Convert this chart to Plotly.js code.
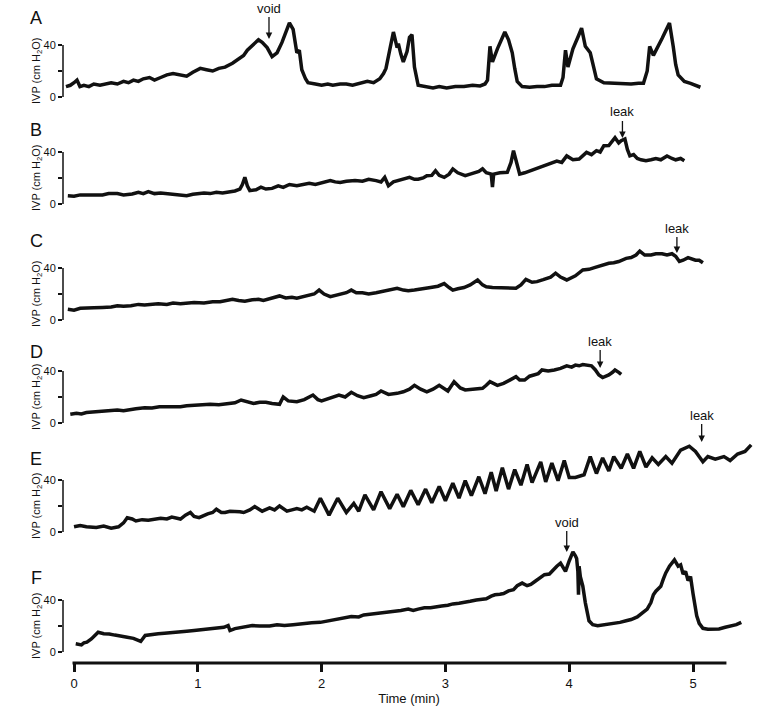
<!DOCTYPE html>
<html>
<head>
<meta charset="utf-8">
<script src="https://cdn.plot.ly/plotly-3.0.1.min.js"></script>
<style>
  html, body { margin: 0; padding: 0; background: #fff; }
  #chart { width: 781px; height: 709px; }
</style>
</head>
<body>
<div id="chart"></div>
<script>
// panel labels and axis ticks
const panelLabels = ["A", "B", "C", "D", "E", "F"];
const timeTicks = [0, 1, 2, 3, 4, 5];
const ivpTicks = [0, 40];
const ivpMinorTicks = [20];

// IVP traces as [time (min), pressure (cm H2O)]
const pointsA = [[-0.065, 8], [-0.03, 9], [0.00, 11], [0.024, 13], [0.048, 8], [0.08, 9], [0.12, 8], [0.16, 10], [0.21, 9], [0.25, 10],
  [0.30, 11], [0.35, 10], [0.40, 12], [0.44, 11], [0.48, 13], [0.52, 12], [0.56, 14], [0.61, 15], [0.65, 13], [0.70, 15],
  [0.75, 17], [0.80, 18], [0.85, 17], [0.91, 16], [0.96, 19], [1.02, 22], [1.07, 21], [1.12, 20], [1.17, 22], [1.22, 23],
  [1.28, 26], [1.33, 29], [1.37, 32], [1.40, 36], [1.45, 40], [1.49, 44], [1.52, 42], [1.56, 38], [1.60, 31], [1.64, 34],
  [1.68, 42], [1.71, 50], [1.74, 57], [1.77, 52], [1.79, 40], [1.80, 34], [1.82, 36], [1.84, 21], [1.87, 14], [1.89, 11],
  [1.95, 10], [2.00, 9], [2.05, 10], [2.09, 9], [2.15, 10], [2.20, 10], [2.25, 9], [2.30, 10], [2.37, 12], [2.42, 11],
  [2.47, 14], [2.50, 18], [2.52, 22], [2.55, 36], [2.58, 50], [2.61, 38], [2.62, 41], [2.64, 33], [2.66, 27], [2.69, 35],
  [2.71, 46], [2.73, 48], [2.75, 23], [2.78, 9], [2.85, 8], [2.90, 7], [2.95, 8], [3.01, 7], [3.08, 8], [3.15, 8],
  [3.22, 9], [3.28, 8.5], [3.32, 10], [3.34, 13], [3.36, 39], [3.38, 27], [3.42, 37], [3.45, 44], [3.48, 50], [3.51, 44],
  [3.54, 34], [3.56, 22], [3.58, 12], [3.62, 8], [3.68, 7.5], [3.74, 8], [3.80, 8], [3.86, 9], [3.93, 9], [3.95, 15],
  [3.97, 36], [3.99, 23], [4.03, 37], [4.07, 46], [4.10, 53], [4.13, 39], [4.17, 34], [4.20, 22], [4.22, 14], [4.28, 11],
  [4.35, 10.5], [4.42, 10], [4.50, 10], [4.56, 10.5], [4.60, 10.5], [4.63, 20], [4.65, 39], [4.68, 32], [4.71, 37], [4.75, 45],
  [4.78, 51], [4.81, 57], [4.84, 39], [4.86, 25], [4.88, 17], [4.93, 12], [4.98, 10.5], [5.02, 9], [5.06, 7.5]];

const pointsB = [[-0.05, 6.4], [0.00, 6], [0.05, 7], [0.10, 7], [0.15, 6.5], [0.23, 6.9], [0.28, 8], [0.35, 8], [0.40, 7], [0.47, 7.7],
  [0.52, 9], [0.56, 8], [0.60, 9.5], [0.65, 8], [0.70, 8.5], [0.75, 8], [0.80, 7.5], [0.85, 7], [0.91, 6.4], [0.96, 7.5],
  [1.00, 8], [1.05, 8.5], [1.10, 8], [1.15, 9], [1.20, 8.5], [1.25, 9.5], [1.30, 10], [1.34, 11.5], [1.36, 15], [1.38, 20.5],
  [1.40, 14], [1.42, 10.3], [1.47, 11], [1.51, 13], [1.55, 11.5], [1.60, 12], [1.65, 14], [1.69, 12.8], [1.74, 15], [1.80, 14],
  [1.85, 15], [1.90, 16], [1.95, 15], [2.00, 16.5], [2.04, 17], [2.07, 18], [2.11, 17], [2.15, 16.5], [2.20, 17.5], [2.27, 18],
  [2.33, 17.5], [2.38, 19], [2.44, 18], [2.48, 17], [2.51, 20.5], [2.54, 14], [2.58, 17], [2.62, 18], [2.66, 19], [2.71, 20.5],
  [2.75, 19], [2.78, 19], [2.82, 20], [2.85, 21.8], [2.89, 22], [2.92, 25.6], [2.95, 22], [2.99, 20.5], [3.03, 23], [3.06, 27],
  [3.10, 24], [3.16, 21.8], [3.20, 23], [3.24, 24], [3.27, 25], [3.30, 27], [3.33, 24], [3.37, 23], [3.38, 13], [3.39, 23],
  [3.44, 24], [3.50, 24.4], [3.53, 32], [3.55, 41], [3.57, 33], [3.60, 23], [3.64, 24], [3.70, 26], [3.75, 28], [3.81, 29.5],
  [3.85, 31], [3.90, 33], [3.94, 32], [3.98, 37], [4.03, 34], [4.08, 34.6], [4.14, 39.7], [4.18, 38], [4.22, 41], [4.25, 40],
  [4.28, 44.9], [4.32, 45], [4.37, 51], [4.40, 47], [4.42, 48.7], [4.45, 50], [4.47, 42], [4.49, 37], [4.52, 38], [4.55, 35],
  [4.58, 34], [4.62, 33.3], [4.66, 34], [4.70, 35], [4.74, 34], [4.79, 37], [4.83, 35], [4.86, 34], [4.90, 35], [4.93, 33.3]];

const pointsC = [[-0.05, 8.2], [0.00, 7.5], [0.05, 9], [0.10, 9], [0.16, 9.5], [0.23, 9.7], [0.30, 10], [0.35, 11], [0.40, 10.5], [0.46, 11],
  [0.52, 12], [0.57, 11.5], [0.62, 12], [0.68, 12.5], [0.75, 12], [0.80, 13], [0.86, 12.5], [0.91, 12.8], [0.97, 13.5], [1.05, 13],
  [1.12, 14], [1.18, 14], [1.23, 15], [1.28, 16], [1.33, 15], [1.38, 14.5], [1.44, 15.5], [1.49, 16], [1.53, 15], [1.58, 16.5],
  [1.62, 17], [1.66, 18.5], [1.71, 17], [1.76, 17.5], [1.80, 16.7], [1.85, 18], [1.90, 19], [1.94, 20], [1.98, 23], [2.02, 20],
  [2.07, 18], [2.11, 19], [2.15, 20], [2.20, 21], [2.24, 23], [2.28, 21], [2.33, 21], [2.38, 20], [2.44, 21], [2.50, 22],
  [2.56, 23], [2.61, 24.4], [2.66, 23], [2.70, 22.5], [2.75, 23], [2.80, 24], [2.88, 25], [2.94, 26], [2.99, 28], [3.03, 25],
  [3.06, 23], [3.10, 24], [3.15, 25], [3.20, 27], [3.26, 30.8], [3.30, 27], [3.33, 25.6], [3.38, 25], [3.45, 25], [3.50, 24.5],
  [3.57, 24.4], [3.61, 27], [3.65, 31.3], [3.70, 29], [3.74, 29.5], [3.79, 31], [3.85, 33], [3.89, 36], [3.93, 33], [3.98, 30.8],
  [4.02, 33], [4.05, 34], [4.11, 38.5], [4.16, 39], [4.21, 40.5], [4.26, 42], [4.32, 43.6], [4.36, 44], [4.40, 45], [4.46, 47.4],
  [4.50, 48], [4.54, 50], [4.57, 53], [4.61, 50], [4.66, 50], [4.70, 51], [4.75, 51], [4.79, 50], [4.83, 51], [4.86, 49],
  [4.89, 45], [4.92, 46], [4.96, 48], [5.02, 46], [5.05, 46], [5.08, 44]];

const pointsD = [[-0.03, 6.7], [0.02, 7.5], [0.06, 7], [0.10, 8], [0.15, 8.5], [0.20, 9], [0.25, 9.5], [0.30, 10], [0.35, 10], [0.40, 9.5],
  [0.45, 10.5], [0.50, 11], [0.57, 11.8], [0.63, 11.5], [0.69, 12.5], [0.75, 12.5], [0.81, 13], [0.86, 12.5], [0.91, 13.3], [0.97, 13.5],
  [1.05, 14], [1.10, 14.5], [1.17, 14], [1.25, 15], [1.30, 15.5], [1.35, 17.7], [1.40, 16], [1.45, 15], [1.50, 16], [1.55, 16],
  [1.60, 15], [1.66, 14.4], [1.69, 20], [1.73, 17], [1.80, 16.4], [1.86, 18], [1.93, 21.5], [1.97, 18], [2.00, 17], [2.07, 19],
  [2.14, 21.5], [2.19, 20], [2.24, 23.6], [2.29, 21], [2.34, 19.5], [2.40, 21], [2.44, 22], [2.48, 24.6], [2.54, 22], [2.61, 22.8],
  [2.66, 24], [2.71, 26], [2.75, 29], [2.80, 26], [2.85, 24], [2.90, 26], [2.95, 29], [3.02, 24.6], [3.07, 31.8], [3.12, 27],
  [3.16, 25.4], [3.22, 26], [3.30, 26.7], [3.33, 29], [3.36, 31.8], [3.42, 29], [3.47, 30.5], [3.52, 33], [3.57, 35.6], [3.60, 33],
  [3.64, 33], [3.68, 36], [3.71, 37], [3.75, 38], [3.78, 40.8], [3.83, 40], [3.88, 40.8], [3.93, 42], [3.98, 44], [4.02, 43],
  [4.05, 44.5], [4.08, 44], [4.11, 45], [4.15, 44.5], [4.18, 44], [4.21, 41], [4.24, 37], [4.27, 35], [4.30, 36], [4.32, 37],
  [4.35, 39], [4.37, 40.8], [4.40, 39], [4.42, 37.4]];

const pointsE = [[0.00, 4], [0.05, 5], [0.10, 4], [0.14, 3.5], [0.18, 3.5], [0.24, 4.5], [0.30, 3], [0.36, 4], [0.40, 7], [0.43, 11],
  [0.47, 10], [0.50, 8.5], [0.55, 9.5], [0.60, 9], [0.65, 10], [0.70, 10.5], [0.75, 10], [0.79, 11.5], [0.86, 10], [0.90, 13],
  [0.94, 15], [0.97, 12], [1.01, 11], [1.05, 13], [1.08, 14], [1.12, 15], [1.15, 17.5], [1.19, 15], [1.22, 15], [1.26, 16],
  [1.30, 16], [1.34, 15.5], [1.37, 15], [1.42, 17], [1.46, 19.5], [1.52, 16], [1.58, 18.5], [1.62, 17], [1.66, 20], [1.72, 16],
  [1.76, 17], [1.80, 18], [1.84, 17], [1.88, 19], [1.94, 16], [1.99, 26], [2.06, 13], [2.13, 26], [2.20, 15], [2.26, 22],
  [2.30, 16], [2.35, 28.5], [2.42, 17], [2.48, 31], [2.55, 18], [2.61, 29], [2.66, 19.5], [2.72, 32], [2.78, 21], [2.84, 33],
  [2.89, 22.5], [2.95, 35], [3.00, 24], [3.06, 37.5], [3.11, 26], [3.16, 39.5], [3.21, 28], [3.27, 42.5], [3.32, 29.5], [3.37, 46],
  [3.41, 31.5], [3.46, 49.5], [3.51, 33], [3.56, 48], [3.61, 36], [3.66, 52], [3.70, 38], [3.77, 54], [3.81, 38.5], [3.86, 53],
  [3.91, 39.5], [3.96, 55], [4.00, 42], [4.05, 42], [4.12, 44], [4.17, 58], [4.22, 45], [4.27, 57], [4.32, 47], [4.36, 58],
  [4.42, 49], [4.47, 60], [4.52, 49], [4.57, 62], [4.62, 50], [4.67, 57], [4.72, 52], [4.78, 58], [4.83, 53], [4.90, 63],
  [4.97, 66], [5.02, 62], [5.08, 54], [5.12, 58], [5.18, 56], [5.25, 58], [5.30, 55], [5.36, 60], [5.42, 62], [5.47, 67]];

const pointsF = [[0.014, 6.3], [0.04, 6], [0.06, 5.5], [0.08, 7], [0.104, 7.6], [0.14, 10], [0.17, 13], [0.195, 15.2], [0.24, 14], [0.285, 13.9],
  [0.33, 13], [0.38, 12.5], [0.43, 11.4], [0.48, 10.5], [0.52, 9], [0.539, 8.1], [0.575, 12.7], [0.62, 13], [0.68, 14], [0.73, 14.5],
  [0.79, 15.2], [0.85, 15.5], [0.91, 16], [0.97, 16.5], [1.03, 17], [1.10, 18], [1.16, 18.5], [1.21, 19], [1.245, 20.3], [1.26, 16.5],
  [1.30, 18], [1.35, 19], [1.40, 19.5], [1.44, 20.3], [1.50, 20], [1.58, 20], [1.64, 21], [1.70, 20.3], [1.77, 21], [1.85, 22],
  [1.92, 22.5], [1.99, 22.8], [2.05, 24], [2.10, 25], [2.17, 26], [2.24, 27.3], [2.30, 27], [2.34, 28.5], [2.39, 29], [2.44, 29.5],
  [2.50, 30], [2.55, 30.5], [2.59, 31], [2.64, 32], [2.70, 33], [2.74, 32], [2.78, 33], [2.83, 34], [2.88, 34], [2.93, 35],
  [2.97, 35.4], [3.02, 36], [3.06, 37], [3.11, 37.5], [3.15, 38], [3.20, 39], [3.25, 40], [3.29, 40.5], [3.33, 41], [3.37, 43],
  [3.40, 44], [3.44, 44.5], [3.47, 45], [3.51, 47], [3.55, 48], [3.58, 51], [3.62, 53], [3.66, 51], [3.69, 52], [3.72, 54],
  [3.75, 56], [3.78, 58], [3.80, 59.5], [3.84, 60], [3.87, 63.3], [3.90, 66], [3.93, 68.4], [3.97, 62], [4.00, 70], [4.03, 77],
  [4.05, 74], [4.06, 72], [4.07, 62], [4.075, 44], [4.08, 66], [4.09, 58], [4.11, 50.6], [4.13, 38], [4.16, 24], [4.19, 21],
  [4.23, 20.3], [4.28, 21], [4.32, 21.5], [4.37, 22], [4.41, 22.8], [4.46, 24], [4.50, 25], [4.55, 27], [4.60, 30.4], [4.63, 33],
  [4.66, 38], [4.68, 44], [4.70, 46.8], [4.74, 50.6], [4.76, 56], [4.78, 60.8], [4.81, 66], [4.83, 69], [4.85, 70.9], [4.88, 66],
  [4.90, 67], [4.92, 60], [4.94, 62], [4.96, 55], [4.98, 58], [5.00, 45], [5.03, 27.8], [5.05, 22], [5.08, 18.2], [5.12, 17.5],
  [5.15, 17.5], [5.21, 17.7], [5.26, 19], [5.30, 20], [5.35, 21], [5.39, 22.8]];

// event markers: panel index, label, time of arrow tip, IVP at arrow tip
const markPanel = [0, 1, 2, 3, 4, 5];
const markText = ["void", "leak", "leak", "leak", "leak", "void"];
const markTime = [1.575, 4.43, 4.87, 4.25, 5.07, 3.98];
const markIvp = [44.6, 50.8, 51.5, 42.3, 69.2, 76.9];

const panelPoints = [pointsA, pointsB, pointsC, pointsD, pointsE, pointsF];

// page geometry (pixels)
const plotLeft = 63, plotRight = 755, plotBottom = 663;
const pxPerUnit = 52 / 40;
const zeroPx = [97, 204, 320, 423, 532, 652];
const topPx = [2, 106, 214, 330, 405, 542];
const bottomPx = [104, 212, 328, 430, 540, 663];
const letterPx = [18, 130, 241, 352, 459, 578];
const markLift = [-31, -26, -25, -27, -27, -30];

const font = 'Arial, "Liberation Sans", sans-serif';
const toPaperY = (px) => (plotBottom - px) / plotBottom;
const toPaperX = (px) => (px - plotLeft) / (plotRight - plotLeft);

let traces = [];
let shapes = [];
let annotations = [];
let layout = {
  width: 781,
  height: 709,
  margin: { l: plotLeft, r: 781 - plotRight, t: 0, b: 709 - plotBottom },
  paper_bgcolor: "#fff",
  plot_bgcolor: "rgba(0,0,0,0)",
  showlegend: false,
  font: { family: font, color: "#111" },
  xaxis: {
    range: [-0.0889, 5.5008],
    anchor: "y6",
    tickvals: timeTicks,
    ticks: "outside",
    ticklen: 8,
    tickwidth: 3,
    tickcolor: "#111",
    showline: false,
    showgrid: false,
    zeroline: false,
    tickfont: { size: 13, family: font, color: "#111" },
    title: { text: "Time (min)", font: { size: 13, family: font, color: "#111" }, standoff: 4 },
  },
};

for (let i = 0; i < 6; i++) {
  let yName = i === 0 ? "y" : "y" + (i + 1);
  let yKey = i === 0 ? "yaxis" : "yaxis" + (i + 1);

  traces.push({
    x: panelPoints[i].map((p) => p[0]),
    y: panelPoints[i].map((p) => p[1]),
    xaxis: "x",
    yaxis: yName,
    mode: "lines",
    name: panelLabels[i],
    line: { color: "#111", width: 3.5 },
    hoverinfo: "skip",
  });

  layout[yKey] = {
    domain: [toPaperY(bottomPx[i]), toPaperY(topPx[i])],
    range: [(zeroPx[i] - bottomPx[i]) / pxPerUnit, (zeroPx[i] - topPx[i]) / pxPerUnit],
    anchor: "x",
    tickvals: ivpTicks,
    ticks: "outside",
    ticklen: 4,
    tickwidth: 1.5,
    tickcolor: "#111",
    minor: { tickvals: ivpMinorTicks, ticks: "outside", ticklen: 4, tickwidth: 1.5, tickcolor: "#111", showgrid: false },
    showline: false,
    showgrid: false,
    zeroline: false,
    tickfont: { size: 11, family: font, color: "#111" },
  };

  // axis spine only spans 0..40
  shapes.push({
    type: "line",
    xref: "paper",
    yref: yName,
    x0: 0,
    x1: 0,
    y0: ivpTicks[0],
    y1: ivpTicks[ivpTicks.length - 1],
    line: { color: "#111", width: 1.5 },
  });

  annotations.push({
    xref: "paper",
    yref: yName,
    x: toPaperX(37),
    y: ivpMinorTicks[0],
    xanchor: "center",
    yanchor: "middle",
    text: "IVP (cm H<sub>2</sub>O)",
    textangle: -90,
    showarrow: false,
    font: { size: 11, family: font, color: "#111" },
  });

  annotations.push({
    xref: "paper",
    yref: "paper",
    x: toPaperX(36),
    y: toPaperY(letterPx[i]),
    xanchor: "center",
    yanchor: "middle",
    text: panelLabels[i],
    showarrow: false,
    font: { size: 18, family: font, color: "#111" },
  });
}

for (let k = 0; k < markText.length; k++) {
  let p = markPanel[k];
  annotations.push({
    xref: "x",
    yref: p === 0 ? "y" : "y" + (p + 1),
    x: markTime[k],
    y: markIvp[k],
    ax: 0,
    ay: markLift[k],
    text: markText[k],
    showarrow: true,
    arrowhead: 2,
    arrowsize: 1,
    arrowwidth: 1.3,
    arrowcolor: "#111",
    standoff: 0,
    font: { size: 13, family: font, color: "#111" },
  });
}

// bottom time axis line
shapes.push({
  type: "line",
  xref: "x",
  yref: "paper",
  x0: -0.012,
  x1: 5.27,
  y0: 0,
  y1: 0,
  line: { color: "#111", width: 3 },
});

layout.shapes = shapes;
layout.annotations = annotations;

Plotly.newPlot("chart", traces, layout, { staticPlot: true, displayModeBar: false });
</script>
</body>
</html>
